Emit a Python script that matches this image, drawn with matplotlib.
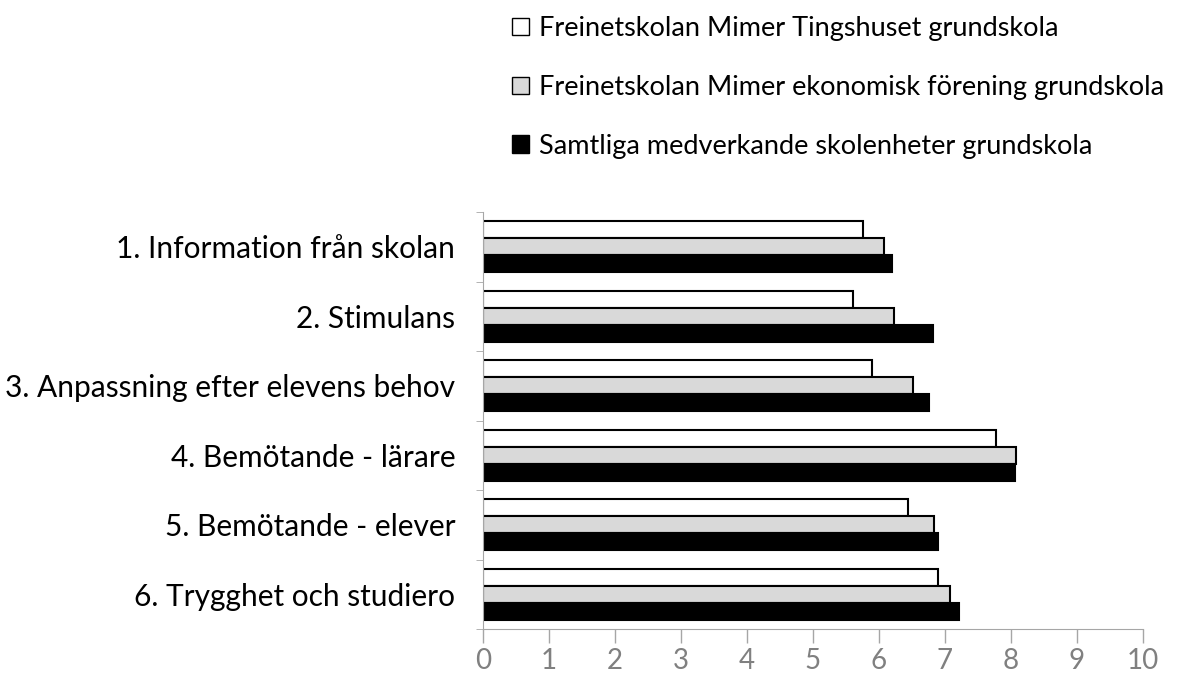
import numpy as np
import matplotlib.pyplot as plt
from matplotlib.patches import Patch

plt.rcParams['font.family'] = ['Lato', 'DejaVu Sans']

categories = ['1. Information från skolan', '2. Stimulans',
              '3. Anpassning efter elevens behov', '4. Bemötande - lärare',
              '5. Bemötande - elever', '6. Trygghet och studiero']
series_names = ['Freinetskolan Mimer Tingshuset grundskola',
                'Freinetskolan Mimer ekonomisk förening grundskola',
                'Samtliga medverkande skolenheter grundskola']
tingshuset = [5.75, 5.60, 5.90, 7.78, 6.44, 6.90]
ekonomisk = [6.08, 6.23, 6.51, 8.08, 6.84, 7.08]
samtliga = [6.19, 6.82, 6.76, 8.06, 6.90, 7.21]
colors = ['white', '#d9d9d9', 'black']

fig = plt.figure(figsize=(11.82, 6.82), dpi=100)
ax = fig.add_axes([483 / 1182, 1 - 629 / 682, 660 / 1182, 417 / 682])

y = np.arange(len(categories))
h = 0.245
for i, (vals, c) in enumerate(zip([tingshuset, ekonomisk, samtliga], colors)):
    ax.barh(y + (i - 1) * h, vals, height=h, color=c, edgecolor='black',
            linewidth=1.5, label=series_names[i])

ax.set_xlim(0, 10)
ax.set_ylim(len(categories) - 0.5, -0.5)
ax.set_xticks(range(0, 11))
ax.tick_params(axis='x', colors='#a6a6a6', labelcolor='#808080', labelsize=20,
               length=10, width=1, pad=4, direction='out')
ax.set_yticks(y)
ax.set_yticklabels(categories, fontsize=21.5)
ax.tick_params(axis='y', length=0, pad=20)
ax.set_yticks(np.arange(-0.5, len(categories)), minor=True)
ax.tick_params(axis='y', which='minor', length=5, color='#a6a6a6')
for s in ['top', 'right']:
    ax.spines[s].set_visible(False)
ax.spines['left'].set_color('#a6a6a6')
ax.spines['bottom'].set_color('#a6a6a6')

handles = [Patch(facecolor=c, edgecolor='black', linewidth=1) for c in colors]
fig.legend(handles, series_names, loc='upper left',
           bbox_to_anchor=(488 / 1182, 1 + 8 / 682), frameon=False,
           fontsize=19.5, labelspacing=1.24, handlelength=0.6, handleheight=0.6,
           handletextpad=0.4)

fig.savefig('out.png', dpi=100)
